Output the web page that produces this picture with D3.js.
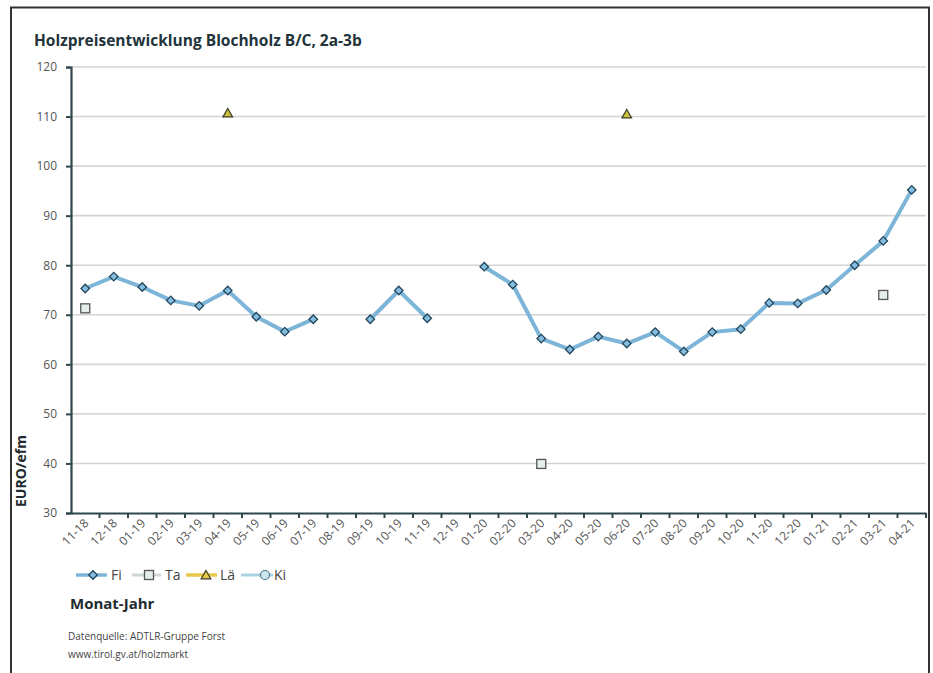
<!DOCTYPE html>
<html><head><meta charset="utf-8">
<script src="https://cdn.jsdelivr.net/npm/d3@7"></script>
<style>
html,body{margin:0;padding:0;background:#fff;}
text{font-family:"Open Sans","Noto Sans",sans-serif;}
</style></head>
<body>
<svg id="c" width="933" height="673"></svg>
<script>
const months = ["11-18","12-18","01-19","02-19","03-19","04-19","05-19","06-19","07-19","08-19","09-19","10-19","11-19","12-19",
"01-20","02-20","03-20","04-20","05-20","06-20","07-20","08-20","09-20","10-20","11-20","12-20","01-21","02-21","03-21","04-21"];
const fi = [75.3,77.7,75.6,72.9,71.8,74.9,69.6,66.6,69.1,null,69.1,74.9,69.3,null,
79.7,76.1,65.2,63.0,65.6,64.2,66.5,62.6,66.5,67.1,72.4,72.3,75.0,80.0,84.9,95.2];
const ta = [71.3,null,null,null,null,null,null,null,null,null,null,null,null,null,
null,null,39.9,null,null,null,null,null,null,null,null,null,null,null,74.0,null];
const la = [null,null,null,null,null,110.5,null,null,null,null,null,null,null,null,
null,null,null,null,null,110.3,null,null,null,null,null,null,null,null,null,null];
const yTicks = [30,40,50,60,70,80,90,100,110,120];
const legendItems = ["Fi","Ta","Lä","Ki"];
const title = "Holzpreisentwicklung Blochholz B/C, 2a-3b";
const yLabel = "EURO/efm";
const xLabel = "Monat-Jahr";
const source = ["Datenquelle: ADTLR-Gruppe Forst","www.tirol.gv.at/holzmarkt"];

const svg = d3.select("#c");
svg.append("rect").attr("x",11).attr("y",7.5).attr("width",918).attr("height",700)
  .attr("fill","#fff").attr("stroke","#333").attr("stroke-width",2);

const x = d3.scaleBand().domain(months).range([71,926]);
const y = d3.scaleLinear().domain([30,120]).range([513,67]);
const cx = m => x(m) + x.bandwidth()/2;

svg.append("text").attr("x",34).attr("y",46).text(title)
  .attr("font-size",15.5).attr("font-weight","bold").attr("fill","#22343a");

svg.append("g").selectAll("line").data(yTicks.filter(t=>t>30)).join("line")
  .attr("x1",71).attr("x2",926).attr("y1",d=>y(d)).attr("y2",d=>y(d))
  .attr("stroke","#d4d4d4").attr("stroke-width",1.6);

const ya = svg.append("g").attr("transform","translate(71,0)")
  .call(d3.axisLeft(y).tickValues(yTicks).tickSize(5).tickPadding(9));
ya.select(".domain").attr("stroke","#2f474c").attr("stroke-width",2.2);
ya.selectAll(".tick line").attr("stroke","#2f474c").attr("stroke-width",2);
ya.selectAll("text").attr("font-size",12).attr("fill","#555").attr("font-family","'Open Sans',sans-serif");

const xa = svg.append("g").attr("transform","translate(0,513)")
  .call(d3.axisBottom(x).tickSize(0).tickFormat(""));
xa.select(".domain").attr("stroke","#2f474c").attr("stroke-width",2.2);
svg.append("g").selectAll("line").data(months).join("line")
  .attr("x1",d=>x(d)+x.bandwidth()).attr("x2",d=>x(d)+x.bandwidth())
  .attr("y1",513).attr("y2",518).attr("stroke","#2f474c").attr("stroke-width",2);
svg.append("g").selectAll("text").data(months).join("text")
  .attr("transform",d=>`translate(${cx(d)+4},${524}) rotate(-45)`)
  .attr("text-anchor","end").attr("font-size",12).attr("fill","#555").text(d=>d);

svg.append("text").attr("transform","translate(26,471) rotate(-90)")
  .attr("text-anchor","middle").attr("font-size",14).attr("font-weight","bold")
  .attr("fill","#1f2b30").text(yLabel);

const fiData = months.map((m,i)=>({m,v:fi[i]}));
const line = d3.line().defined(d=>d.v!==null).x(d=>cx(d.m)).y(d=>y(d.v));
svg.append("path").datum(fiData).attr("d",line).attr("fill","none")
  .attr("stroke","#7db5d9").attr("stroke-width",4).attr("stroke-linejoin","round");
const diamond = d3.symbol().type(d3.symbolSquare).size(36);
svg.append("g").selectAll("path").data(fiData.filter(d=>d.v!==null)).join("path")
  .attr("d",diamond).attr("transform",d=>`translate(${cx(d.m)},${y(d.v)}) rotate(45)`)
  .attr("fill","#84bde0").attr("stroke","#23465a").attr("stroke-width",1.3);

const taData = months.map((m,i)=>({m,v:ta[i]})).filter(d=>d.v!==null);
svg.append("g").selectAll("rect").data(taData).join("rect")
  .attr("x",d=>cx(d.m)-4.5).attr("y",d=>y(d.v)-4.5).attr("width",9).attr("height",9)
  .attr("fill","#e6eeea").attr("stroke","#555").attr("stroke-width",1.3);

const laData = months.map((m,i)=>({m,v:la[i]})).filter(d=>d.v!==null);
const tri = d3.symbol().type(d3.symbolTriangle).size(40);
svg.append("g").selectAll("path").data(laData).join("path")
  .attr("d",tri).attr("transform",d=>`translate(${cx(d.m)},${y(d.v)})`)
  .attr("fill","#c8c23c").attr("stroke","#3a3a22").attr("stroke-width",1.2);

const lg = [
  {x0:76,x1:107,mx:93,tx:111,lc:"#7db5d9",lw:3.5},
  {x0:132,x1:161,mx:149,tx:165,lc:"#cfd6d4",lw:3},
  {x0:186,x1:217,mx:206,tx:220,lc:"#e8c84a",lw:3.5},
  {x0:241,x1:273,mx:265,tx:274,lc:"#a9d2e2",lw:3}
];
const LY = 575;
const L = svg.append("g");
lg.forEach((o,i)=>{
  L.append("line").attr("x1",o.x0).attr("x2",o.x1).attr("y1",LY).attr("y2",LY)
    .attr("stroke",o.lc).attr("stroke-width",o.lw);
  if(i===0) L.append("path").attr("d",diamond).attr("transform",`translate(${o.mx},${LY}) rotate(45)`)
    .attr("fill","#84bde0").attr("stroke","#23465a").attr("stroke-width",1.3);
  if(i===1) L.append("rect").attr("x",o.mx-4.5).attr("y",LY-4.5).attr("width",9).attr("height",9)
    .attr("fill","#e6eeea").attr("stroke","#555").attr("stroke-width",1.3);
  if(i===2) L.append("path").attr("d",tri).attr("transform",`translate(${o.mx},${LY+1})`)
    .attr("fill","#e8c84a").attr("stroke","#3a3a22").attr("stroke-width",1.2);
  if(i===3) L.append("circle").attr("cx",o.mx).attr("cy",LY).attr("r",4.5)
    .attr("fill","#cfe6ef").attr("stroke","#4a7a8a").attr("stroke-width",1.2);
  L.append("text").attr("x",o.tx).attr("y",LY+5).attr("font-size",14)
    .attr("fill","#444").text(legendItems[i]);
});

svg.append("text").attr("x",70).attr("y",609).attr("font-size",15).attr("font-weight","bold")
  .attr("fill","#1f2b30").text(xLabel);
svg.append("g").selectAll("text").data(source).join("text")
  .attr("x",68).attr("y",(d,i)=>640+i*18).attr("font-size",10).attr("fill","#444").text(d=>d);
</script>
</body></html>
